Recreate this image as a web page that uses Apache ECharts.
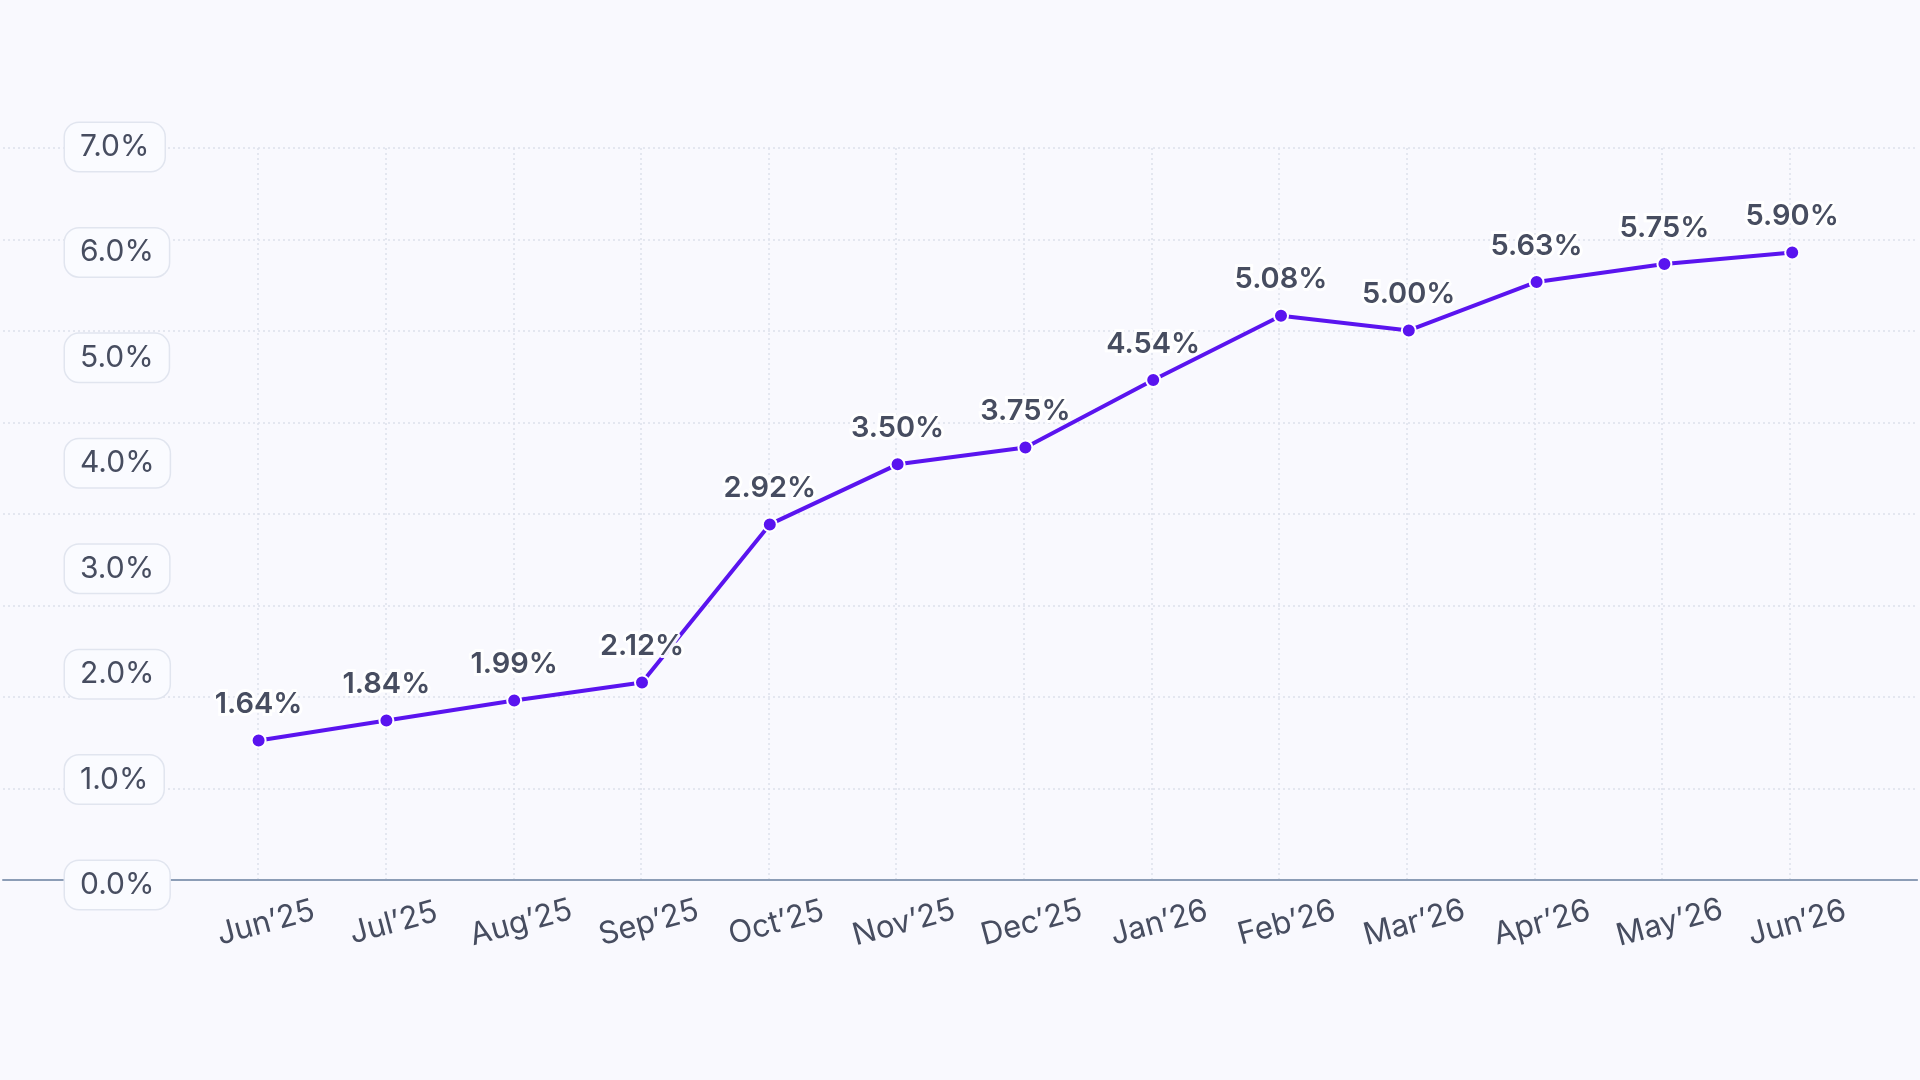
<!DOCTYPE html>
<html>
<head>
<meta charset="utf-8">
<title>Rate trend</title>
<script src="https://cdn.jsdelivr.net/npm/echarts@6/dist/echarts.min.js"></script>
<style>
  html, body { margin: 0; padding: 0; background: #f9f9fe; }
  #chart { width: 1920px; height: 1080px; }
</style>
</head>
<body>
<div id="chart"></div>
<script>
// months on the x axis
var months = ['Jun’25', 'Jul’25', 'Aug’25', 'Sep’25', 'Oct’25', 'Nov’25', 'Dec’25',
  'Jan’26', 'Feb’26', 'Mar’26', 'Apr’26', 'May’26', 'Jun’26'];
// printed value labels above each point
var rateLabels = ['1.64%', '1.84%', '1.99%', '2.12%', '2.92%', '3.50%', '3.75%',
  '4.54%', '5.08%', '5.00%', '5.63%', '5.75%', '5.90%'];
// point heights as drawn, read against the 0–7% label axis
var plotted = [1.37, 1.56, 1.75, 1.92, 3.42, 3.99, 4.15, 4.79, 5.40, 5.26, 5.72, 5.89, 6.00];
// y axis tick labels
var yTicks = [0, 1, 2, 3, 4, 5, 6, 7];

var textColor = '#474d60';
var purple = '#5a14ef';

// two empty slots on the left and one on the right, as in the picture
var pad = ['', ''];
var xCats = pad.concat(months, ['']);
var seriesData = [null, null].concat(plotted, [null]);

var chart = echarts.init(document.getElementById('chart'));

var options = {
  backgroundColor: '#f9f9fe',
  textStyle: { fontFamily: 'Inter' },
  grid: [
    { left: 3, right: 0, top: 148, bottom: 200 },
    { left: 3, right: 0, top: 147, bottom: 195 }
  ],
  xAxis: [
    {
      gridIndex: 0,
      type: 'category',
      boundaryGap: false,
      data: xCats,
      axisLine: { lineStyle: { color: '#8c9db6', width: 2 } },
      axisTick: { show: false },
      axisLabel: {
        interval: 0,
        rotate: 15,
        align: 'center',
        verticalAlign: 'middle',
        margin: 45,
        fontSize: 31,
        padding: [0, 0, 0, 16],
        color: textColor
      },
      splitLine: {
        show: true,
        interval: function(index, value) { return value !== ''; },
        lineStyle: { color: '#dde1ec', type: [2, 3], width: 1.5 }
      }
    },
    {
      gridIndex: 1,
      type: 'category',
      boundaryGap: false,
      data: xCats,
      show: false
    }
  ],
  yAxis: [
    {
      gridIndex: 0,
      type: 'value',
      min: 0,
      max: 8,
      interval: 1,
      axisLine: { show: false },
      axisTick: { show: false },
      axisLabel: { show: false },
      splitLine: { lineStyle: { color: '#dde1ec', type: [2, 3], width: 1.5 } }
    },
    {
      gridIndex: 1,
      type: 'value',
      min: yTicks[0],
      max: yTicks[yTicks.length - 1],
      interval: 1,
      z: 5,
      axisLine: { show: false },
      axisTick: { show: false },
      splitLine: { show: false },
      axisLabel: {
        inside: true,
        margin: 62,
        fontSize: 30,
        lineHeight: 32,
        color: textColor,
        backgroundColor: '#fafbff',
        borderColor: '#e1e5ef',
        borderWidth: 1.5,
        borderRadius: 14,
        padding: [10, 15, 6, 15],
        formatter: function(v) { return v.toFixed(1) + '%'; }
      }
    }
  ],
  series: [
    {
      type: 'line',
      xAxisIndex: 1,
      yAxisIndex: 1,
      data: seriesData,
      symbol: 'circle',
      symbolSize: 14,
      itemStyle: { color: purple, borderColor: '#ffffff', borderWidth: 2 },
      lineStyle: { color: purple, width: 4 },
      z: 10,
      label: {
        show: true,
        position: 'top',
        distance: 11,
        fontSize: 29,
        fontWeight: 600,
        lineHeight: 34,
        color: textColor,
        textBorderColor: 'rgba(255,255,255,0.95)',
        textBorderWidth: 6,
        formatter: function(p) { return rateLabels[p.dataIndex - pad.length]; }
      }
    }
  ]
};

chart.setOption(options);
</script>
</body>
</html>
